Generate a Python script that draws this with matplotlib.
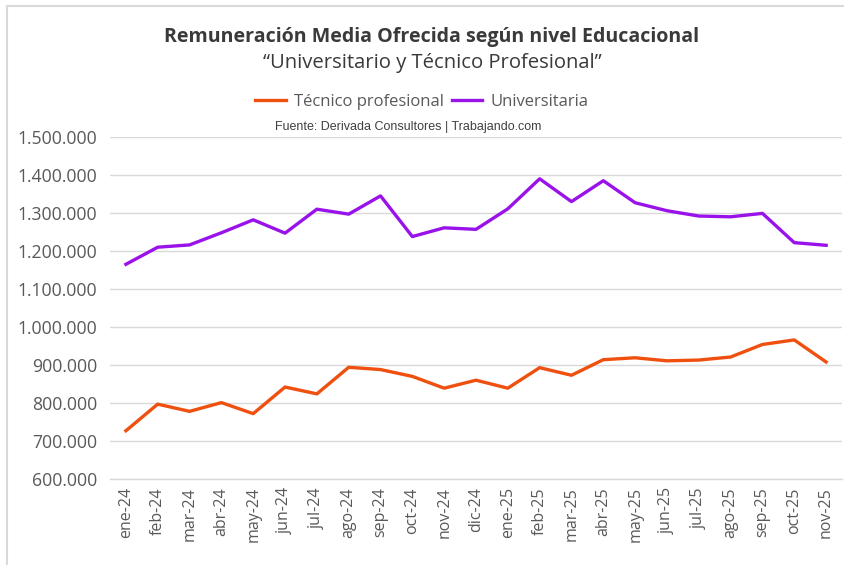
import matplotlib
matplotlib.use("Agg")
import matplotlib.pyplot as plt
from matplotlib.ticker import FuncFormatter, MultipleLocator
from matplotlib.patches import Rectangle

months = ["ene-24", "feb-24", "mar-24", "abr-24", "may-24", "jun-24", "jul-24", "ago-24",
          "sep-24", "oct-24", "nov-24", "dic-24", "ene-25", "feb-25", "mar-25", "abr-25",
          "may-25", "jun-25", "jul-25", "ago-25", "sep-25", "oct-25", "nov-25"]
tecnico = [727000, 797000, 778000, 801000, 772000, 842000, 824000, 894000,
           888000, 870000, 839000, 860000, 839000, 893000, 873000, 914000,
           919000, 911000, 913000, 921000, 954000, 966000, 908000]
universitaria = [1165000, 1210000, 1216000, 1248000, 1282000, 1247000, 1310000, 1297000,
                 1345000, 1238000, 1261000, 1257000, 1311000, 1390000, 1330000, 1385000,
                 1327000, 1306000, 1292000, 1290000, 1299000, 1222000, 1215000]

W, H = 844, 565
fig = plt.figure(figsize=(W / 100, H / 100), dpi=100)
fig.patch.set_facecolor("white")

# chart border (top and left visible)
fig.add_artist(Rectangle((6.5 / W, -0.1), 1.2, (H - 5.5) / H + 0.1, transform=fig.transFigure,
                         fill=False, edgecolor="#d9d9d9", linewidth=1.5))

ax = fig.add_axes([110 / W, (H - 479) / H, (842 - 110) / W, (479 - 137) / H])
x = list(range(len(months)))
l1, = ax.plot(x, tecnico, color="#EF500F", linewidth=2.4, solid_joinstyle="round",
              label="Técnico profesional")
l2, = ax.plot(x, universitaria, color="#9A12EA", linewidth=2.4, solid_joinstyle="round",
              label="Universitaria")

ax.set_xlim(-0.5, len(months) - 0.5)
ax.set_ylim(600000, 1500000)
ax.yaxis.set_major_locator(MultipleLocator(100000))
ax.yaxis.set_major_formatter(FuncFormatter(lambda v, p: f"{int(v):,}".replace(",", ".")))
ax.grid(axis="y", color="#d9d9d9", linewidth=1)
ax.set_axisbelow(True)
for s in ["top", "right", "left"]:
    ax.spines[s].set_visible(False)
ax.spines["bottom"].set_color("#d9d9d9")
ax.spines["bottom"].set_linewidth(1)
ax.set_xticks(x)
ax.set_xticklabels(months, rotation=90, fontfamily="Open Sans", fontsize=11.5, color="#595959")
for lab in ax.get_yticklabels():
    lab.set_fontfamily("Open Sans")
ax.tick_params(axis="y", labelsize=12.7, labelcolor="#595959", length=0, pad=9)
ax.tick_params(axis="x", length=0, pad=6)

fig.text(432 / W, 1 - 37 / H, "Remuneración Media Ofrecida según nivel Educacional",
         ha="center", va="center", fontfamily="Open Sans", fontweight="bold", fontsize=14.1,
         color="#3a3a3a")
fig.text(432 / W, 1 - 63 / H, "\u201cUniversitario y Técnico Profesional\u201d",
         ha="center", va="center", fontfamily="Open Sans", fontsize=14.6, color="#3a3a3a")
leg = fig.legend(handles=[l1, l2], loc="center", bbox_to_anchor=(422 / W, 1 - 102 / H), ncol=2,
                 frameon=False, prop={"family": "Open Sans", "size": 12}, handlelength=1.8,
                 handletextpad=0.5, columnspacing=0.5, borderpad=0)
for t in leg.get_texts():
    t.set_color("#595959")
fig.text(408 / W, 1 - 127 / H, "Fuente: Derivada Consultores | Trabajando.com",
         ha="center", va="center", fontfamily="Liberation Sans", fontsize=9, color="#404040")

fig.savefig("out.png", dpi=100, facecolor="white")
